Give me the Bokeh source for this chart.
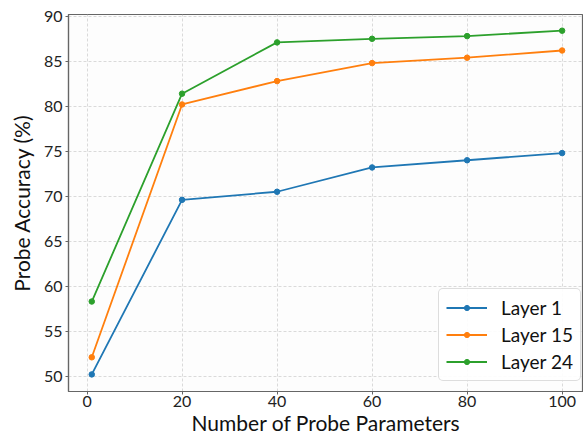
from bokeh.plotting import figure
from bokeh.models import Range1d, Legend, LegendItem, FixedTicker
from bokeh.embed import file_html
from bokeh.resources import INLINE

params = [1, 20, 40, 60, 80, 100]
layer1 = [50.2, 69.6, 70.5, 73.2, 74.0, 74.8]
layer15 = [52.1, 80.2, 82.8, 84.8, 85.4, 86.2]
layer24 = [58.3, 81.4, 87.1, 87.5, 87.8, 88.4]
series_names = ["Layer 1", "Layer 15", "Layer 24"]
series_colors = ["#1f77b4", "#ff7f0e", "#2ca02c"]
x_ticks = [0, 20, 40, 60, 80, 100]
y_ticks = [50, 55, 60, 65, 70, 75, 80, 85, 90]

FONT = "Lato"

p = figure(width=583, height=437, output_backend="svg", toolbar_location=None,
           x_range=Range1d(-3.9, 104.5), y_range=Range1d(48.3, 90.2),
           min_border_left=68, min_border_right=0, min_border_top=14, min_border_bottom=0)

p.background_fill_color = "#fdfdfd"
p.border_fill_color = "white"
p.outline_line_color = "#666666"
p.outline_line_width = 1.2

for ax in (p.xaxis[0], p.yaxis[0]):
    ax.axis_line_color = "#666666"
    ax.axis_line_width = 1.2
    ax.major_tick_line_color = "#666666"
    ax.major_tick_out = 3
    ax.major_tick_in = 0
    ax.minor_tick_line_color = None
    ax.major_label_text_font = FONT
    ax.major_label_text_font_size = "16px"
    ax.major_label_text_color = "#222222"
    ax.axis_label_text_font = FONT
    ax.axis_label_text_font_size = "21px"
    ax.axis_label_text_font_style = "normal"
    ax.axis_label_text_color = "#111111"

p.xaxis.ticker = FixedTicker(ticks=x_ticks)
p.yaxis.ticker = FixedTicker(ticks=y_ticks)
p.xaxis.axis_label = "Number of Probe Parameters"
p.yaxis.axis_label = "Probe Accuracy (%)"
p.xaxis.axis_label_standoff = 0
p.yaxis.axis_label_standoff = 7
p.xaxis.major_label_standoff = 1
p.yaxis.major_label_standoff = 3

for g in (p.xgrid[0], p.ygrid[0]):
    g.grid_line_color = "#d0d0d0"
    g.grid_line_dash = "3 2"
    g.grid_line_width = 0.8

items = []
for name, vals, col in zip(series_names, [layer1, layer15, layer24], series_colors):
    r1 = p.line(params, vals, line_color=col, line_width=1.8)
    r2 = p.scatter(params, vals, size=5.5, fill_color=col, line_color=col)
    items.append(LegendItem(label=name, renderers=[r1, r2]))

legend = Legend(items=items, location=(370, 10))
legend.label_text_font = FONT
legend.label_text_font_size = "19px"
legend.label_text_color = "#111111"
legend.glyph_width = 41
legend.glyph_height = 13
legend.label_standoff = 14
legend.spacing = 4
legend.padding = 7
legend.margin = 0
legend.border_line_color = "#bbbbbb"
legend.border_line_width = 1
legend.border_radius = 5
legend.background_fill_color = "white"
legend.background_fill_alpha = 0.9
p.add_layout(legend, "center")

open("out.html", "w").write(file_html(p, INLINE))
